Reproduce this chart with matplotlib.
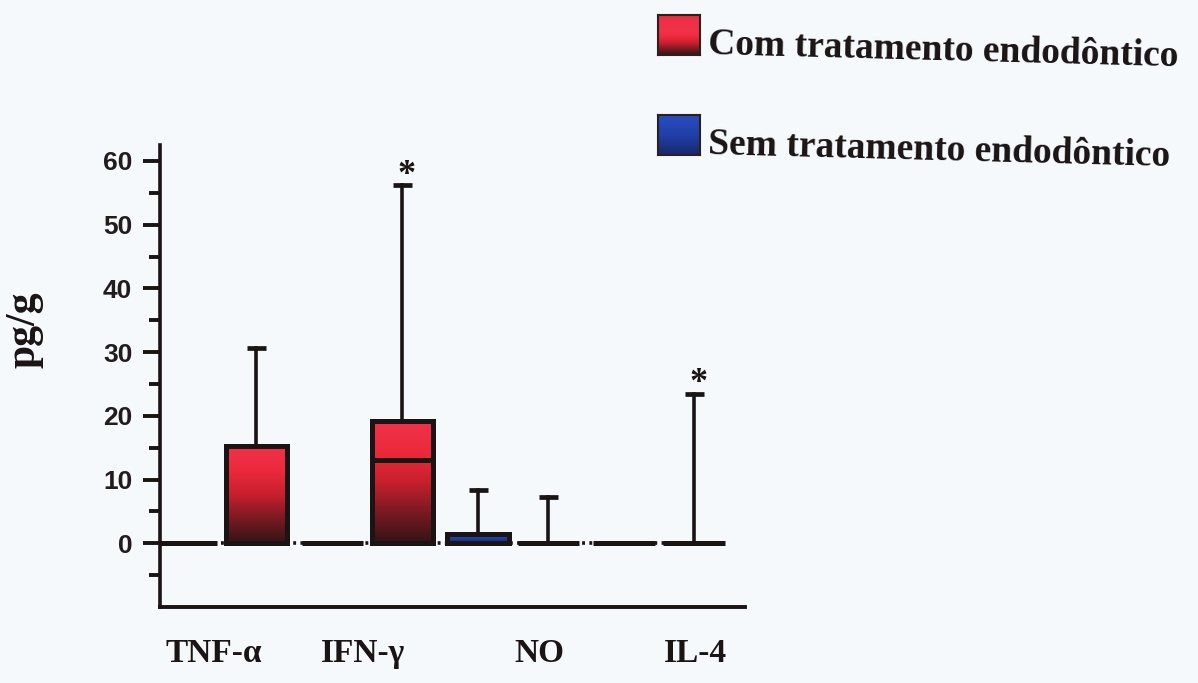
import numpy as np
import matplotlib
matplotlib.use("Agg")
import matplotlib.pyplot as plt
from matplotlib.patches import Rectangle
from matplotlib.colors import LinearSegmentedColormap

# cytokine levels (pg/g): box from 0 to upper quartile, whisker to max
categories = ["TNF-\u03b1", "IFN-\u03b3", "NO", "IL-4"]
sem_q3 = [0.0, 0.0, 1.5, 0.0]
sem_med = [0.0, 0.0, 0.0, 0.0]
sem_max = [0.0, 0.0, 8.4, 0.0]
com_q3 = [15.3, 19.2, 0.0, 0.0]
com_med = [0.0, 13.0, 0.0, 0.0]
com_max = [30.6, 56.2, 7.3, 23.5]
signif = [False, True, False, True]
series_names = ["Com tratamento endodôntico", "Sem tratamento endodôntico"]

bg = "#f5f9fc"
ink = "#1a1414"
red_cmap = LinearSegmentedColormap.from_list("red", ["#351416", "#7a1a22", "#c8202e", "#ec2a3c", "#f0324a"])
blue_cmap = LinearSegmentedColormap.from_list("blue", ["#18286a", "#2040a8", "#2a4cc0"])

fig = plt.figure(figsize=(11.98, 6.83), dpi=100, facecolor=bg)
ax = fig.add_axes([0.1336, 0.1113, 0.4884, 0.6764], facecolor=bg)

w = 0.42
off = 0.24
grad = np.linspace(0, 1, 100).reshape(-1, 1)


def draw_box(x, q3, med, top, cmap):
    x0 = x - w / 2
    if q3 > 0:
        rect = Rectangle((x0, 0), w, q3, facecolor="none", edgecolor="none")
        ax.add_patch(rect)
        im = ax.imshow(grad, cmap=cmap, origin="lower", aspect="auto",
                       extent=[x0, x0 + w, 0, q3], zorder=2)
        im.set_clip_path(rect)
    ax.add_patch(Rectangle((x0, 0), w, q3, facecolor="none",
                           edgecolor=ink, lw=3.6, zorder=3))
    if 0 < med < q3:
        ax.plot([x0, x0 + w], [med, med], color=ink, lw=3.6, zorder=3)
    if top > q3:
        ax.plot([x, x], [q3, top], color=ink, lw=2.6, zorder=3)
        ax.plot([x - 0.065, x + 0.065], [top, top], color=ink, lw=3.4,
                solid_capstyle="butt", zorder=3)


for i in range(len(categories)):
    draw_box(i - off, sem_q3[i], sem_med[i], sem_max[i], blue_cmap)
    draw_box(i + off, com_q3[i], com_med[i], com_max[i], red_cmap)
    if signif[i]:
        ax.annotate("*", (i + off + 0.03, com_max[i]), xytext=(0, -5),
                    textcoords="offset points", ha="center", va="bottom",
                    fontsize=26, fontweight="bold", family="Liberation Serif",
                    color=ink)

# zero baseline
ax.plot([-0.45, 3.42], [0, 0], color=ink, lw=2.6, ls=(0, (0.8, 1.2)), zorder=1)

ax.set_xlim(-0.42, 3.59)
ax.set_ylim(-10, 62.5)

for s in ["top", "right"]:
    ax.spines[s].set_visible(False)
ax.spines["left"].set_linewidth(2.6)
ax.spines["bottom"].set_linewidth(2.8)
ax.spines["left"].set_color(ink)
ax.spines["bottom"].set_color(ink)

ax.set_yticks(np.arange(0, 61, 10))
ax.set_yticks(np.arange(-5, 56, 10), minor=True)
ax.tick_params(axis="y", which="major", length=12, width=2.8, direction="out",
               pad=8, labelsize=19, color=ink)
ax.tick_params(axis="y", which="minor", length=8, width=2.8, direction="out",
               color=ink)
for t in ax.get_yticklabels():
    t.set_fontweight("bold")
    t.set_family("Liberation Sans")
    t.set_color("#221c1c")

label_pos = [-0.05, 0.97, 2.18, 3.25]
ax.set_xticks(label_pos)
ax.set_xticklabels(categories, family="Liberation Serif", fontweight="bold",
                   fontsize=24, color=ink)
ax.tick_params(axis="x", length=0, pad=22)

ax.set_ylabel("pg/g", family="Liberation Serif", fontweight="bold",
              fontsize=30, color=ink)
ax.yaxis.set_label_coords(-0.2, 0.6)

# legend swatches and labels
swatch_cmaps = [red_cmap, blue_cmap]
swatch_y = [15, 115]
text_y = [45, 145]
for k in range(2):
    sax = fig.add_axes([658 / 1198, 1 - (swatch_y[k] + 40) / 683, 42 / 1198, 40 / 683])
    if k == 0:
        g = np.concatenate([np.linspace(0, 1, 60), np.linspace(1, 0.85, 40)]).reshape(-1, 1)
    else:
        g = np.linspace(0.3, 1, 100).reshape(-1, 1)
    sax.imshow(g, cmap=swatch_cmaps[k], origin="lower", aspect="auto")
    sax.set_xticks([])
    sax.set_yticks([])
    for s in sax.spines.values():
        s.set_color("#2a2020")
        s.set_linewidth(1.5)
    fig.text(708 / 1198, 1 - text_y[k] / 683, series_names[k],
             family="Liberation Serif", fontweight="bold", fontsize=27,
             ha="left", va="center", rotation=-1.5, rotation_mode="anchor",
             color=ink)

fig.savefig("out.png", dpi=100, facecolor=bg)
